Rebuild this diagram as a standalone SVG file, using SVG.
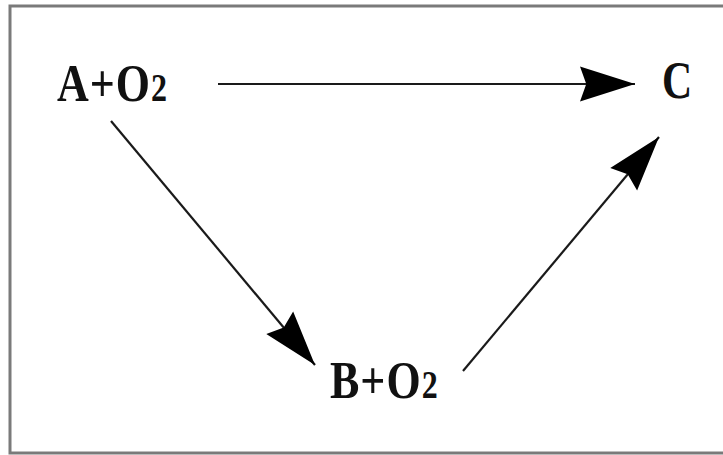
<svg xmlns="http://www.w3.org/2000/svg" width="723" height="455" viewBox="0 0 723 455">
  <style>
    .lbl { font-family: "Liberation Serif", "Times New Roman", serif; font-weight: bold; font-size: 44px; fill: #111; letter-spacing: 1px; }
    .sub { font-size: 32px; }
    .conn { stroke: #1a1a1a; stroke-width: 2.2; fill: none; }
  </style>
  <defs>
    <marker id="ah" markerUnits="userSpaceOnUse" markerWidth="60" markerHeight="40" viewBox="-46 -16 48 32" refX="0" refY="0" orient="auto">
      <path d="M0,0 L-44,-14 L-39,0 L-44,14 Z" fill="#000"/>
    </marker>
  </defs>
  <rect x="10" y="6" width="730" height="447" fill="#fff" stroke="#7a7a7a" stroke-width="3"/>
  <g id="connectors">
    <line class="conn" x1="218" y1="84" x2="635" y2="84" marker-end="url(#ah)"/>
    <line class="conn" x1="111" y1="121" x2="315" y2="365" marker-end="url(#ah)"/>
    <line class="conn" x1="463" y1="371" x2="659" y2="137" marker-end="url(#ah)"/>
  </g>
  <g id="nodeA">
    <text class="lbl" transform="translate(57,101) scale(1,1.22)">A+O<tspan class="sub">2</tspan></text>
  </g>
  <g id="nodeC">
    <text class="lbl" transform="translate(662,98) scale(0.95,1.22)">C</text>
  </g>
  <g id="nodeB">
    <text class="lbl" transform="translate(330,398) scale(1,1.22)">B+O<tspan class="sub">2</tspan></text>
  </g>
</svg>
